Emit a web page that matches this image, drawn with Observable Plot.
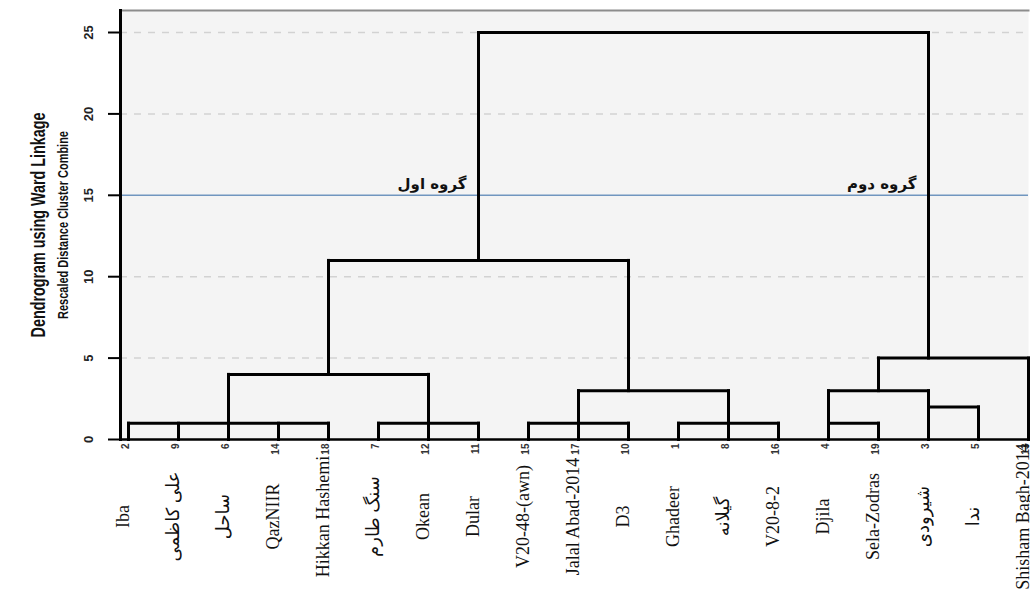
<!DOCTYPE html>
<html>
<head>
<meta charset="utf-8">
<script src="https://cdn.jsdelivr.net/npm/d3@7"></script>
<script src="https://cdn.jsdelivr.net/npm/@observablehq/plot@0.6"></script>
<style>
  html, body { margin: 0; padding: 0; background: #ffffff; }
  #chart svg { display: block; }
</style>
</head>
<body>
<div id="chart"></div>
<script>
// ---- data ----
const leafIds = [2, 9, 6, 14, 18, 7, 12, 11, 15, 17, 10, 1, 8, 16, 4, 19, 3, 5, 13];
const leafNames = ["Iba", "علی کاظمی", "ساحل", "QazNIIR", "Hikkan Hashemi", "سنگ طارم", "Okean", "Dular",
  "V20-48-(awn)", "Jalal Abad-2014", "D3", "Ghadeer", "گیلانه", "V20-8-2", "Djila", "Sela-Zodras",
  "شیرودی", "ندا", "Shisham Bagh-2014"];
// clusters: children (L = leaf index in order, C = cluster), merge height, position of the stem (leaf order units)
const clusterChildren = [
  ["L0", "L1", "L2", "L3", "L4"],
  ["L5", "L6", "L7"],
  ["C0", "C1"],
  ["L8", "L9", "L10"],
  ["L11", "L12", "L13"],
  ["C3", "C4"],
  ["C2", "C5"],
  ["L14", "L15"],
  ["L16", "L17"],
  ["C7", "C8"],
  ["C9", "L18"],
  ["C6", "C10"]
];
const clusterHeights = [1, 1, 4, 1, 1, 3, 11, 1, 2, 3, 5, 25];
const clusterStem = [2, 6, 4, 9, 12, 10, 7, 14, 16, 15, 16, 11.5];
const yTicks = [0, 5, 10, 15, 20, 25];
const gridValues = [5, 10, 20, 25];
const cutHeight = 15;
const groupLabels = ["گروه اول", "گروه دوم"];
const groupStems = [7, 16];
const groupHeight = 15.7;
const titleText = "Dendrogram using Ward Linkage";
const subtitleText = "Rescaled Distance Cluster Combine";

// ---- build segments from the tree ----
function nodeInfo(id) {
  if (id[0] === "L") { const i = +id.slice(1); return {x: i, h: 0}; }
  const c = +id.slice(1); return {x: clusterStem[c], h: clusterHeights[c]};
}
const segs = [];
clusterChildren.forEach((kids, c) => {
  const h = clusterHeights[c];
  const xs = kids.map(k => nodeInfo(k));
  xs.forEach(n => segs.push({x1: n.x, y1: n.h, x2: n.x, y2: h}));
  segs.push({x1: d3.min(xs, n => n.x), y1: h, x2: d3.max(xs, n => n.x), y2: h});
});
const leaves = leafIds.map((id, i) => ({i, id: String(id), name: leafNames[i]}));
const groups = groupLabels.map((t, i) => ({t, x: groupStems[i], y: groupHeight}));

const sans = "'Liberation Sans', Arial, sans-serif";

const chart = Plot.plot({
  width: 1030,
  height: 605,
  marginLeft: 120,
  marginRight: 2,
  marginTop: 10,
  marginBottom: 166,
  style: {background: "#ffffff", overflow: "visible"},
  x: {domain: [0, 18], insetLeft: 8, axis: null},
  y: {domain: [0, 25], insetTop: 22, axis: null},
  marks: [
    Plot.frame({fill: "#f4f4f4", stroke: null}),
    Plot.frame({anchor: "top", stroke: "#8c8c8c", strokeWidth: 2}),
    Plot.ruleY(gridValues, {stroke: "#d2d2d2", strokeWidth: 1.5, strokeDasharray: "7,7"}),
    Plot.ruleY([cutHeight], {stroke: "#7096bf", strokeWidth: 1.6}),
    Plot.link(segs, {x1: "x1", y1: "y1", x2: "x2", y2: "y2", stroke: "#000", strokeWidth: 3, strokeLinecap: "square"}),
    Plot.frame({anchor: "left", stroke: "#000", strokeWidth: 3}),
    Plot.ruleY([0], {stroke: "#000", strokeWidth: 2.5}),
    Plot.axisY({ticks: yTicks, tickSize: 12, tickPadding: 16, tickRotate: -90, fontSize: 13,
      fontFamily: sans, fontWeight: "bold", stroke: "#000", strokeWidth: 2, label: null, fill: "#222",
      className: "yax"}),
    Plot.text(leaves, {x: "i", text: "id", frameAnchor: "bottom", dy: 4, rotate: -90, textAnchor: "end",
      fontSize: 10, fontFamily: sans, fontWeight: "bold", fill: "#333"}),
    Plot.text(leaves, {x: "i", text: "name", frameAnchor: "bottom", dy: 77, rotate: -90, textAnchor: "middle",
      fontSize: 18, fontFamily: "'Liberation Serif', 'Times New Roman', 'DejaVu Sans', serif", fill: "#111"}),
    Plot.text(groups, {x: "x", y: "y", text: "t", textAnchor: "end", dx: -12, fontSize: 15, fontWeight: "bold",
      fontFamily: "'DejaVu Sans', sans-serif", fill: "#111"}),
    Plot.text([titleText], {text: d => d, frameAnchor: "left", dx: -82, rotate: -90, textAnchor: "middle",
      fontSize: 21, fontWeight: "bold", fontFamily: sans, fill: "#111", className: "ttl"}),
    Plot.text([subtitleText], {text: d => d, frameAnchor: "left", dx: -57, rotate: -90, textAnchor: "middle",
      fontSize: 14, fontWeight: "bold", fontFamily: sans, fill: "#111", className: "sub"})
  ]
});
document.getElementById("chart").appendChild(chart);
// condense the two rotated title lines along their baseline to the reference lengths
function condense(sel, target) {
  d3.select(chart).selectAll(sel).each(function () {
    const len = this.getComputedTextLength();
    if (!len) return;
    const s = Math.min(1, target / len);
    const t = this.getAttribute("transform") || "";
    this.setAttribute("transform", (t + ` scale(${s},1)`).trim());
  });
}
condense(".ttl text", 225);
condense(".sub text", 188);
</script>
</body>
</html>
